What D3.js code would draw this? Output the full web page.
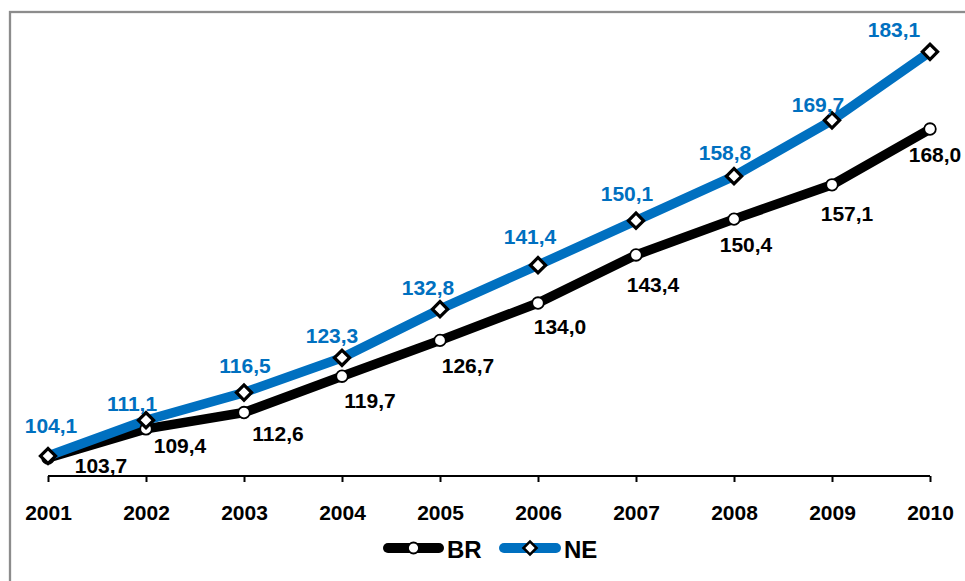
<!DOCTYPE html>
<html>
<head>
<meta charset="utf-8">
<script src="https://cdn.jsdelivr.net/npm/d3@7"></script>
<style>
  html, body { margin: 0; padding: 0; background: #fff; }
  svg { display: block; font-family: "Liberation Sans", Arial, sans-serif; font-weight: bold; }
</style>
</head>
<body>
<svg id="chart" width="965" height="581"></svg>
<script>
// Index values per year, Brazil (BR) and Northeast region (NE)
const years = ["2001", "2002", "2003", "2004", "2005", "2006", "2007", "2008", "2009", "2010"];
const brValues = [103.7, 109.4, 112.6, 119.7, 126.7, 134.0, 143.4, 150.4, 157.1, 168.0];
const neValues = [104.1, 111.1, 116.5, 123.3, 132.8, 141.4, 150.1, 158.8, 169.7, 183.1];
const seriesNames = ["BR", "NE"];

// Data-label placement relative to each point: [dx of text centre, dy of baseline]
const brLabelOffsets = [[53, 15], [34, 24], [34, 28], [28, 32], [28, 33], [22, 31], [17, 37], [12, 33], [15, 36], [5, 33]];
const neLabelOffsets = [[3, -23], [-14, -9], [1, -20], [-10, -15], [-12, -14], [-8, -21], [-9, -20], [-9, -16], [-14, -8], [-36, -15]];

const blue = "#0070C0";
const fmt = v => d3.format(".1f")(v).replace(".", ",");
const labelFont = "21px";

const svg = d3.select("#chart");

// Outer chart frame (extends past the visible area on the right and bottom)
svg.append("rect")
  .attr("x", 10).attr("y", 12)
  .attr("width", 1000).attr("height", 620)
  .attr("fill", "none")
  .attr("stroke", "#8c8c8c")
  .attr("stroke-width", 2.3);

const x = d3.scalePoint().domain(years).range([48, 930]);
const y = d3.scaleLinear().domain([100, 190]).range([477, 16.5]);

// X axis
const axisY = 476;
const xAxis = svg.append("g")
  .attr("transform", `translate(0,${axisY})`)
  .call(d3.axisBottom(x).tickSizeInner(6).tickSizeOuter(0).tickPadding(23));
xAxis.select(".domain").attr("stroke", "#000").attr("stroke-width", 2).attr("d", `M${x(years[0])},0H${x(years[years.length - 1])}`);
xAxis.selectAll(".tick line").attr("stroke", "#000").attr("stroke-width", 2);
xAxis.selectAll(".tick text")
  .attr("fill", "#000")
  .style("font-size", labelFont)
  .style("font-family", '"Liberation Sans", Arial, sans-serif')
  .style("font-weight", "bold");

const line = d3.line().x((d, i) => x(years[i])).y(d => y(d));

const series = [
  { name: "BR", values: brValues, color: "#000", offsets: brLabelOffsets, labelColor: "#000", marker: "circle" },
  { name: "NE", values: neValues, color: blue, offsets: neLabelOffsets, labelColor: blue, marker: "diamond" }
];

const diamond = d3.symbol().type(d3.symbolSquare).size(115);

function drawMarker(g, kind, cx, cy) {
  if (kind === "circle") {
    g.append("circle")
      .attr("cx", cx).attr("cy", cy).attr("r", 5.8)
      .attr("fill", "#fff").attr("stroke", "#000").attr("stroke-width", 1.8);
  } else {
    g.append("path")
      .attr("d", diamond())
      .attr("transform", `translate(${cx},${cy}) rotate(45)`)
      .attr("fill", "#fff").attr("stroke", "#000").attr("stroke-width", 3.2)
      .attr("stroke-linejoin", "miter");
  }
}

// Lines
series.forEach(s => {
  svg.append("path")
    .datum(s.values)
    .attr("d", line)
    .attr("fill", "none")
    .attr("stroke", s.color)
    .attr("stroke-width", 9.5)
    .attr("stroke-linejoin", "round");
});

// Markers
series.forEach(s => {
  const g = svg.append("g");
  s.values.forEach((v, i) => drawMarker(g, s.marker, x(years[i]), y(v)));
});

// Data labels
series.forEach(s => {
  svg.append("g")
    .selectAll("text")
    .data(s.values)
    .join("text")
    .attr("x", (d, i) => x(years[i]) + s.offsets[i][0])
    .attr("y", (d, i) => y(d) + s.offsets[i][1])
    .attr("text-anchor", "middle")
    .attr("fill", s.labelColor)
    .style("font-size", labelFont)
    .text(d => fmt(d));
});

// Legend
const legendY = 548;
const legendItems = [
  { name: seriesNames[0], color: "#000", marker: "circle", x0: 383, x1: 444 },
  { name: seriesNames[1], color: blue, marker: "diamond", x0: 499, x1: 561 }
];
const legend = svg.append("g");
legendItems.forEach(it => {
  legend.append("line")
    .attr("x1", it.x0 + 5).attr("x2", it.x1 - 5)
    .attr("y1", legendY).attr("y2", legendY)
    .attr("stroke", it.color).attr("stroke-width", 10)
    .attr("stroke-linecap", "round");
  const cx = (it.x0 + it.x1) / 2;
  if (it.marker === "circle") {
    legend.append("circle")
      .attr("cx", cx).attr("cy", legendY).attr("r", 5.5)
      .attr("fill", "#fff").attr("stroke", "#000").attr("stroke-width", 1.8);
  } else {
    legend.append("path")
      .attr("d", d3.symbol().type(d3.symbolSquare).size(85)())
      .attr("transform", `translate(${cx},${legendY}) rotate(45)`)
      .attr("fill", "#fff").attr("stroke", "#000").attr("stroke-width", 2.6);
  }
  legend.append("text")
    .attr("x", it.x1 + 3).attr("y", legendY + 10)
    .attr("fill", "#000")
    .style("font-size", "24px")
    .text(it.name);
});
</script>
</body>
</html>
